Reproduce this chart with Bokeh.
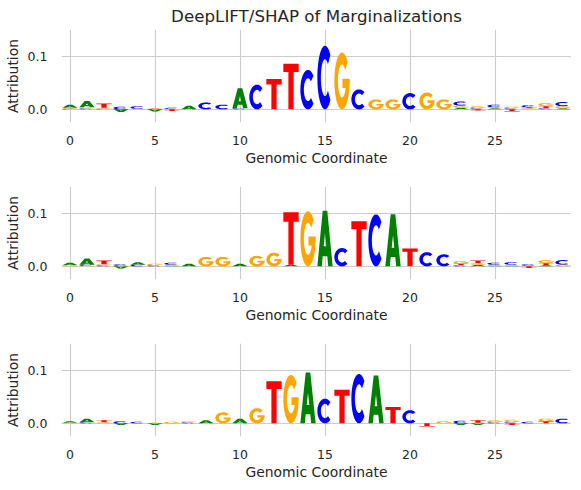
import numpy as np
from bokeh.plotting import figure
from bokeh.layouts import column
from bokeh.models import FixedTicker, Range1d, PrintfTickFormatter
from bokeh.embed import file_html
from bokeh.resources import INLINE

positions = list(range(30))
x_ticks = [0, 5, 10, 15, 20, 25]
y_ticks = [0.0, 0.1]
title_text = "DeepLIFT/SHAP of Marginalizations"
x_label = "Genomic Coordinate"
y_label = "Attribution"
letter_colors = {"A": "#008000", "C": "#0000ff", "G": "#ffa500", "T": "#ff0000"}

# Panel 1
A1 = [0.006, 0.012, 0, -0.005, 0, -0.004, 0, 0.007, 0, 0, 0.038, 0, 0, 0, 0, 0, 0, 0, 0, 0, 0, 0, 0, 0.003, 0, 0.002, 0, 0, 0, 0.002]
C1 = [0.001, 0.002, 0.001, 0.005, 0.005, 0.001, 0.002, 0, 0.013, 0.009, 0.002, 0.047, 0, 0, 0.075, 0.121, 0, 0.038, 0, 0, 0.031, 0, 0, 0.008, 0.002, 0.005, 0.002, 0.004, 0.002, 0.008]
G1 = [0.002, 0.002, 0.002, 0, 0.001, 0.001, 0.001, 0, 0, 0, 0, 0, 0, 0, 0, 0, 0.108, 0, 0.019, 0.019, 0, 0.032, 0.019, 0.004, 0.004, 0.002, 0.003, 0.002, 0.006, 0.004]
T1 = [0, 0, 0.008, 0, 0, 0, -0.003, 0, 0, 0, 0, 0, 0.058, 0.087, 0, 0, 0, 0, 0, 0, 0, 0, 0, 0, -0.002, 0, -0.004, 0.002, 0.004, 0]

# Panel 2
A2 = [0.005, 0.012, 0, -0.004, 0.005, 0, 0.001, 0.005, 0, 0, 0.005, 0, 0, 0.003, 0, 0.106, 0, 0, 0, 0.099, 0, 0, 0, 0, 0.003, 0.001, 0.001, 0, 0.002, 0]
C2 = [0, 0.002, 0.002, 0.003, 0.003, 0.002, 0.004, 0, 0, 0, 0, 0, 0, 0, 0, 0, 0.035, 0, 0.099, 0, 0, 0.027, 0.023, 0.002, 0, 0.004, 0.005, 0.003, 0, 0.009]
G2 = [0.002, 0.001, 0.002, 0.001, 0, 0.003, 0.002, 0, 0.018, 0.018, 0, 0.020, 0.026, 0, 0.105, 0, 0, 0, 0, 0, 0, 0, 0, 0.005, 0.003, 0.002, 0.002, 0.001, 0.006, 0.003]
T2 = [0, 0, 0.007, 0, 0, 0, 0, 0, 0, 0, 0, 0, 0, 0.100, 0, 0, 0, 0.086, 0, 0, 0.034, 0, 0, 0.003, 0.005, 0, 0, -0.003, 0.004, 0]

# Panel 3
A3 = [0.003, 0.007, 0, -0.003, 0, -0.003, 0, 0, 0.006, 0, 0.009, 0, 0, 0, 0.097, 0, 0, 0, 0.091, 0, 0, 0, 0, -0.003, -0.003, 0, 0, 0, 0, 0]
C3 = [0, 0.002, 0, 0.004, 0.003, 0, 0, 0.002, 0, 0, 0, 0, 0, 0, 0, 0.047, 0, 0.094, 0, 0, 0.025, 0, 0, 0.005, 0, 0.002, 0.002, 0.003, 0, 0.009]
G3 = [0.001, 0, 0.002, 0, 0, 0.001, 0.003, 0.002, 0, 0.021, 0, 0.029, 0, 0.092, 0, 0, 0, 0, 0, 0, 0, 0, 0.004, 0, 0.001, 0.004, 0.005, 0, 0.005, 0]
T3 = [0, 0, 0.004, 0, 0, 0, 0, 0, 0, 0, 0, 0, 0.080, 0, 0, 0, 0.064, 0, 0, 0.031, 0, -0.006, 0, 0, 0.005, 0, -0.003, 0, 0.004, 0]

panels = [
    {"A": A1, "C": C1, "G": G1, "T": T1},
    {"A": A2, "C": C2, "G": G2, "T": T2},
    {"A": A3, "C": C3, "G": G3, "T": T3},
]

TEXT = "#262626"


def arc(cx, cy, rx, ry, a0, a1, n=40):
    t = np.radians(np.linspace(a0, a1, n))
    return list(cx + rx * np.cos(t)), list(cy + ry * np.sin(t))


def letter_rings(ch):
    """Glyph outline in a unit box: list of rings (first outer, then holes)."""
    if ch == "T":
        xs = [0, 1, 1, 0.67, 0.67, 0.33, 0.33, 0]
        ys = [1, 1, 0.82, 0.82, 0, 0, 0.82, 0.82]
        return [(xs, ys)]
    if ch == "A":
        xs = [0, 0.35, 0.65, 1, 0.71, 0.647, 0.353, 0.29]
        ys = [0, 1, 1, 0, 0, 0.18, 0.18, 0]
        hx = [0.416, 0.584, 0.5]
        hy = [0.36, 0.36, 0.6]
        return [(xs, ys), (hx, hy)]
    if ch == "C":
        ox, oy = arc(0.5, 0.5, 0.5, 0.5, 45, 315)
        ix, iy = arc(0.5, 0.5, 0.27, 0.29, 315, 45)
        return [(ox + ix, oy + iy)]
    if ch == "G":
        ox, oy = arc(0.5, 0.5, 0.5, 0.5, 42, 360)
        ix, iy = arc(0.5, 0.5, 0.27, 0.29, 335, 42)
        bx = [1.0, 0.53, 0.53]
        by = [0.54, 0.54, iy[0]]
        return [(ox + bx + ix, oy + by + iy)]
    return []


def build_glyphs(vals, width=0.9):
    data = {ch: ([], []) for ch in "ACGT"}
    for i, pos in enumerate(positions):
        items = [(ch, vals[ch][i]) for ch in "ACGT" if vals[ch][i] != 0]
        pos_items = sorted([it for it in items if it[1] > 0], key=lambda t: t[1])
        neg_items = sorted([it for it in items if it[1] < 0], key=lambda t: -t[1])
        floor = 0.0
        for ch, v in pos_items:
            rx, ry = [], []
            for (ux, uy) in letter_rings(ch):
                rx.append([pos - width / 2 + u * width for u in ux])
                ry.append([floor + w * v for w in uy])
            data[ch][0].append([rx])
            data[ch][1].append([ry])
            floor += v
        ceil = 0.0
        for ch, v in neg_items:
            h = -v
            rx, ry = [], []
            for (ux, uy) in letter_rings(ch):
                rx.append([pos - width / 2 + u * width for u in ux])
                ry.append([ceil - w * h for w in uy])
            data[ch][0].append([rx])
            data[ch][1].append([ry])
            ceil -= h
    return data


def make_panel(vals, idx):
    with_title = idx == 0
    p = figure(
        frame_width=510, frame_height=93,
        x_range=Range1d(-0.5, 29.5), y_range=Range1d(-0.025, 0.152),
        output_backend="svg", toolbar_location=None,
        min_border_left=54, min_border_right=0,
        min_border_top=29 if with_title else 17, min_border_bottom=47,
        title=title_text if with_title else None,
        margin=(0, 0, 0, 1),
    )
    p.outline_line_color = None
    p.background_fill_color = "white"
    p.border_fill_color = "white"
    if with_title:
        p.title.text_font = "DejaVu Sans"
        p.title.text_font_size = "16.7px"
        p.title.text_font_style = "normal"
        p.title.text_color = TEXT
        p.title.align = "center"
        p.title.standoff = 7
    for ax in (p.xaxis[0], p.yaxis[0]):
        ax.axis_line_color = None
        ax.major_tick_line_color = None
        ax.minor_tick_line_color = None
        ax.major_label_text_font = "DejaVu Sans"
        ax.major_label_text_font_size = "12.5px"
        ax.major_label_text_color = TEXT
        ax.axis_label_text_font = "DejaVu Sans"
        ax.axis_label_text_font_size = "13.9px"
        ax.axis_label_text_font_style = "normal"
        ax.axis_label_text_color = TEXT
    p.xaxis.ticker = FixedTicker(ticks=x_ticks)
    p.yaxis.ticker = FixedTicker(ticks=y_ticks)
    p.yaxis.formatter = PrintfTickFormatter(format="%.1f")
    p.xaxis.axis_label = x_label
    p.yaxis.axis_label = y_label
    p.xaxis.major_label_standoff = 7
    p.xaxis.axis_label_standoff = 2
    p.yaxis.major_label_standoff = 8
    p.yaxis.axis_label_standoff = 4
    p.xgrid.ticker = FixedTicker(ticks=x_ticks)
    p.ygrid.ticker = FixedTicker(ticks=y_ticks)
    p.xgrid.grid_line_color = "#cccccc"
    p.ygrid.grid_line_color = "#cccccc"
    p.xgrid.grid_line_width = 1.1
    p.ygrid.grid_line_width = 1.1

    glyphs = build_glyphs(vals)
    for ch in "ACGT":
        xs, ys = glyphs[ch]
        if xs:
            p.multi_polygons(xs=xs, ys=ys, fill_color=letter_colors[ch],
                             line_color=None)
    return p


figs = [make_panel(v, i) for i, v in enumerate(panels)]
layout = column(*figs, spacing=0)
open("out.html", "w").write(file_html(layout, INLINE))
